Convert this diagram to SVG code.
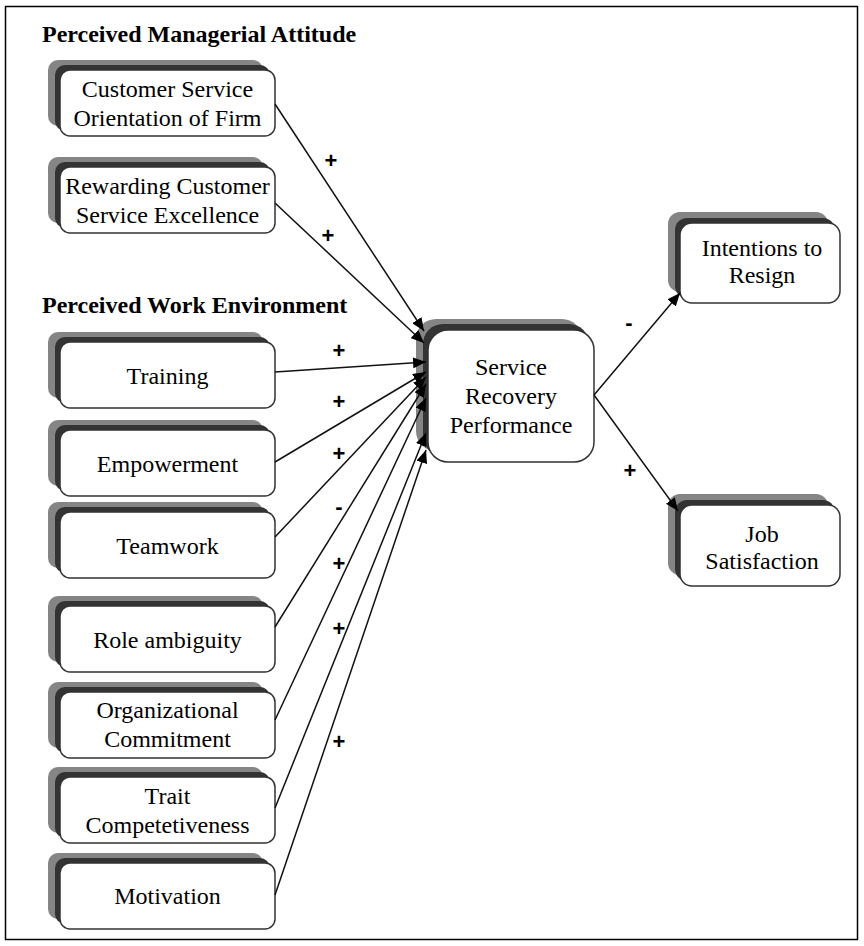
<svg xmlns="http://www.w3.org/2000/svg" width="864" height="946" viewBox="0 0 864 946">
<style>
.frame{fill:#fff;stroke:#000;stroke-width:1.5}
.sh1{fill:#858585}
.sh2{fill:#333}
.box{fill:#fff;stroke:#333;stroke-width:1.5}
.t{font-family:"Liberation Serif","Times New Roman",serif;font-size:24px;fill:#000;text-anchor:middle}
.h{font-family:"Liberation Serif","Times New Roman",serif;font-size:24px;font-weight:bold;fill:#000}
.s{font-family:"Liberation Sans",Arial,sans-serif;font-size:22px;font-weight:bold;fill:#000;text-anchor:middle}
.c{stroke:#111;stroke-width:1.5;fill:none;marker-end:url(#ah)}
</style>
<defs>
<marker id="ah" markerUnits="userSpaceOnUse" markerWidth="13" markerHeight="11" refX="13" refY="5.5" orient="auto">
<path d="M0,0 L13,5.5 L0,11 z" fill="#000"/>
</marker>
</defs>
<rect class="frame" x="5.5" y="6.5" width="852" height="933"/>
<text class="h" x="42" y="42">Perceived Managerial Attitude</text>
<text class="h" x="42" y="313">Perceived Work Environment</text>

<g id="customer-service">
<rect class="sh1" x="48" y="60" width="215" height="66" rx="10"/>
<rect class="sh2" x="55" y="65" width="215" height="66" rx="10"/>
<rect class="box" x="60" y="70" width="215" height="66" rx="10"/>
<text class="t" x="167.5" y="97">Customer Service</text>
<text class="t" x="167.5" y="126">Orientation of Firm</text>
</g>
<g id="rewarding">
<rect class="sh1" x="48" y="157" width="215" height="66" rx="10"/>
<rect class="sh2" x="55" y="162" width="215" height="66" rx="10"/>
<rect class="box" x="60" y="167" width="215" height="66" rx="10"/>
<text class="t" x="167.5" y="194">Rewarding Customer</text>
<text class="t" x="167.5" y="223">Service Excellence</text>
</g>
<g id="training">
<rect class="sh1" x="48" y="332" width="215" height="66" rx="10"/>
<rect class="sh2" x="55" y="337" width="215" height="66" rx="10"/>
<rect class="box" x="60" y="342" width="215" height="66" rx="10"/>
<text class="t" x="167.5" y="384">Training</text>
</g>
<g id="empowerment">
<rect class="sh1" x="48" y="420" width="215" height="66" rx="10"/>
<rect class="sh2" x="55" y="425" width="215" height="66" rx="10"/>
<rect class="box" x="60" y="430" width="215" height="66" rx="10"/>
<text class="t" x="167.5" y="472">Empowerment</text>
</g>
<g id="teamwork">
<rect class="sh1" x="48" y="502" width="215" height="66" rx="10"/>
<rect class="sh2" x="55" y="507" width="215" height="66" rx="10"/>
<rect class="box" x="60" y="512" width="215" height="66" rx="10"/>
<text class="t" x="167.5" y="554">Teamwork</text>
</g>
<g id="role-ambiguity">
<rect class="sh1" x="48" y="596" width="215" height="66" rx="10"/>
<rect class="sh2" x="55" y="601" width="215" height="66" rx="10"/>
<rect class="box" x="60" y="606" width="215" height="66" rx="10"/>
<text class="t" x="167.5" y="648">Role ambiguity</text>
</g>
<g id="organizational-commitment">
<rect class="sh1" x="48" y="682" width="215" height="66" rx="10"/>
<rect class="sh2" x="55" y="687" width="215" height="66" rx="10"/>
<rect class="box" x="60" y="692" width="215" height="66" rx="10"/>
<text class="t" x="167.5" y="718">Organizational</text>
<text class="t" x="167.5" y="747">Commitment</text>
</g>
<g id="trait-competetiveness">
<rect class="sh1" x="48" y="767" width="215" height="66" rx="10"/>
<rect class="sh2" x="55" y="772" width="215" height="66" rx="10"/>
<rect class="box" x="60" y="777" width="215" height="66" rx="10"/>
<text class="t" x="167.5" y="804">Trait</text>
<text class="t" x="167.5" y="833">Competetiveness</text>
</g>
<g id="motivation">
<rect class="sh1" x="48" y="853" width="215" height="66" rx="10"/>
<rect class="sh2" x="55" y="858" width="215" height="66" rx="10"/>
<rect class="box" x="60" y="863" width="215" height="66" rx="10"/>
<text class="t" x="167.5" y="904">Motivation</text>
</g>

<g id="service-recovery-performance">
<rect class="sh1" x="416" y="319" width="166" height="132" rx="20"/>
<rect class="sh2" x="423" y="324" width="166" height="132" rx="20"/>
<rect class="box" x="428" y="330" width="166" height="132" rx="20"/>
<text class="t" x="511" y="375">Service</text>
<text class="t" x="511" y="404">Recovery</text>
<text class="t" x="511" y="433">Performance</text>
</g>
<g id="intentions-to-resign">
<rect class="sh1" x="668" y="212" width="160" height="80" rx="12"/>
<rect class="sh2" x="675" y="218" width="160" height="80" rx="12"/>
<rect class="box" x="680" y="223" width="160" height="80" rx="12"/>
<text class="t" x="762" y="256">Intentions to</text>
<text class="t" x="762" y="283">Resign</text>
</g>
<g id="job-satisfaction">
<rect class="sh1" x="668" y="494" width="160" height="81" rx="12"/>
<rect class="sh2" x="675" y="500" width="160" height="81" rx="12"/>
<rect class="box" x="680" y="505" width="160" height="81" rx="12"/>
<text class="t" x="762" y="542">Job</text>
<text class="t" x="762" y="569">Satisfaction</text>
</g>

<g id="connectors">
<line class="c" x1="275" y1="104" x2="424" y2="331"/>
<line class="c" x1="275" y1="203" x2="424" y2="343"/>
<line class="c" x1="275" y1="372" x2="426" y2="362"/>
<line class="c" x1="275" y1="462" x2="426" y2="372"/>
<line class="c" x1="275" y1="537" x2="426" y2="377"/>
<line class="c" x1="275" y1="627" x2="426" y2="384"/>
<line class="c" x1="275" y1="720" x2="426" y2="398"/>
<line class="c" x1="275" y1="808" x2="426" y2="433"/>
<line class="c" x1="275" y1="895" x2="426" y2="450"/>
<line class="c" x1="594" y1="395" x2="680" y2="293"/>
<line class="c" x1="594" y1="395" x2="678" y2="511"/>
<text class="s" x="331" y="168">+</text>
<text class="s" x="328" y="243">+</text>
<text class="s" x="339" y="358">+</text>
<text class="s" x="339" y="409">+</text>
<text class="s" x="339" y="461">+</text>
<text class="s" x="339" y="514">-</text>
<text class="s" x="339" y="571">+</text>
<text class="s" x="339" y="636">+</text>
<text class="s" x="339" y="749">+</text>
<text class="s" x="629" y="330">-</text>
<text class="s" x="630" y="478">+</text>
</g>
</svg>
